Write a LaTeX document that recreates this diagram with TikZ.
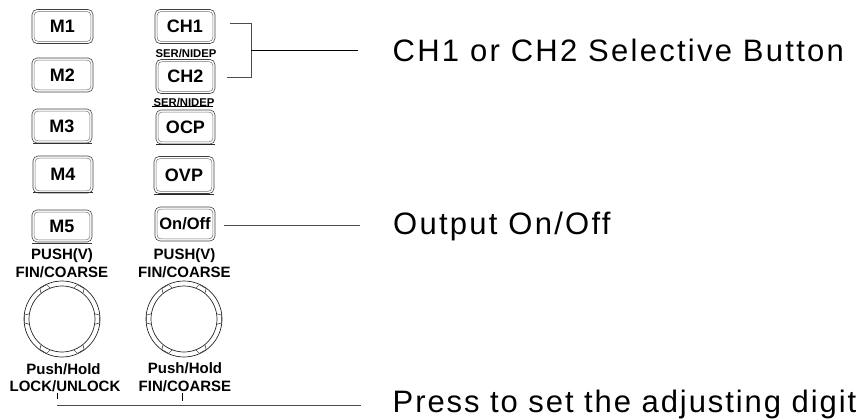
\documentclass[tikz,border=0pt]{standalone}
\usepackage{fontspec}
\setmainfont{Liberation Sans}
\newfontfamily\callfont[LetterSpace=7.3]{Liberation Sans}
\newfontfamily\callfontb[LetterSpace=6.2]{Liberation Sans}
\tikzset{
  btnbox/.style={draw=black!75,line width=0.6pt,rounded corners=5pt,minimum width=#1,inner sep=0pt,font=\fontsize{18}{19}\selectfont\bfseries},
  btnbox/.default=61pt,
  tiny label/.style={inner sep=0pt,font=\fontsize{11.3}{12}\selectfont\bfseries},
  small label/.style={inner sep=0pt,font=\fontsize{15}{16}\selectfont\bfseries},
  callout/.style={anchor=base west,inner sep=0pt,font=\fontsize{31}{33}\selectfont\callfont},
  leader/.style={draw=black!70,line width=0.7pt},
  knob/.style={circle,draw=black!85,line width=0.7pt,minimum size=76pt,inner sep=0pt},
  knobin/.style={circle,draw=black!85,line width=0.7pt,minimum size=66pt,inner sep=0pt},
  notch/.style={draw=black!85,fill=white,line width=0.5pt}
}
\newcommand{\btn}[6]{% name, cx, cy, w, h, text
  \node[btnbox=#4 pt,minimum height=#5 pt] (#1) at (#2,#3) {#6};
  \draw[black!55,line width=0.5pt,rounded corners=3.5pt]
    ($(#1.south west)+(2.5,-2.5)$) rectangle ($(#1.north east)+(-2.5,2.5)$);
}
\newcommand{\knobnotches}[1]{%
  \foreach \a in {0,60,120,180,240,300}{%
    \draw[notch] ($(#1)+(\a-9:33.3)$) -- ($(#1)+(\a-6:37.7)$) -- ($(#1)+(\a+6:37.7)$) -- ($(#1)+(\a+9:33.3)$);
  }%
}
\usetikzlibrary{calc}
\begin{document}
\begin{tikzpicture}[x=1pt,y=-1pt]
\useasboundingbox (0,0) rectangle (863,420);
% memory buttons
\btn{m1}{62.5}{26.5}{61}{34}{M1}
\btn{m2}{62.5}{75}{61}{34}{M2}
\btn{m3}{62}{126}{60}{34}{M3}
\btn{m4}{63}{174.5}{60}{37}{M4}
\btn{m5}{62}{226}{60}{32}{M5}
\draw[line width=0.9pt,black!80] (33,143.5) -- (92,143.5) (33,192.5) -- (93,192.5) (32,243) -- (92,243);
% channel buttons
\btn{ch1}{185}{26.5}{60}{34}{CH1}
\btn{ch2}{185.5}{76.5}{59}{34}{CH2}
\btn{ocp}{185.5}{127}{59}{34}{OCP}
\btn{ovp}{184}{175}{60}{37}{OVP}
\node[btnbox=60pt,minimum height=34pt,font=\fontsize{16.5}{17}\selectfont\bfseries] (onoff) at (185,224) {On/Off};
\draw[black!55,line width=0.5pt,rounded corners=3.5pt]
  ($(onoff.south west)+(2.5,-2.5)$) rectangle ($(onoff.north east)+(-2.5,2.5)$);
\draw[line width=1pt,black!85] (156,144.5) -- (215,144.5) (154,194.5) -- (214,194.5);
% small labels
\node[tiny label] (ser1) at (186,53.5) {SER/NIDEP};
\node[tiny label] (ser2) at (184,102.5) {SER/NIDEP};
\draw[line width=0.6pt] (152,106.5) -- (213,106.5);
\node[small label] (p1) at (62,256) {PUSH(V)};
\node[small label] (f1) at (62,272.5) {FIN/COARSE};
\node[small label] (p2) at (184.5,256) {PUSH(V)};
\node[small label] (f2) at (184.5,272.5) {FIN/COARSE};
% knobs
\node[knob] (k1) at (62,319) {};
\node[knob] (k2) at (184,319) {};
\knobnotches{k1}
\knobnotches{k2}
\node[knobin] (k1i) at (62,319) {};
\node[knobin] (k2i) at (184,319) {};
\node[small label] (h1) at (63.5,369) {Push/Hold};
\node[small label] (l1) at (65,386) {LOCK/UNLOCK};
\node[small label] (h2) at (185,368) {Push/Hold};
\node[small label] (l2) at (185,386) {FIN/COARSE};
% callouts
\node[callout] (t1) at (392.5,62) {CH1 or CH2 Selective Button};
\node[callout] (t2) at (393,234) {Output On/Off};
\node[callout,font=\fontsize{31}{33}\selectfont\callfontb] (t3) at (392.5,412) {Press to set the adjusting digit};
% leaders
\coordinate (a1) at (230,23.5);
\coordinate (a2) at (227,77);
\coordinate (bt) at (251,23.5);
\coordinate (bb) at (251,77);
\coordinate (bm) at (251,50);
\coordinate (e1) at (358,50);
\draw[leader] (a1) -- (bt) -- (bb) -- (a2);
\draw[line width=0.8pt] (bm) -- (e1);
\coordinate (a3) at (224,225);
\coordinate (e3) at (360,225);
\draw[leader] (a3) -- (e3);
\coordinate (b1) at (57,405);
\coordinate (b2) at (361,405);
\coordinate (c1) at (57,392.5);
\coordinate (c1b) at (57,398.5);
\coordinate (c2) at (182,392.5);
\coordinate (c2b) at (182,400.5);
\draw[leader,line width=0.9pt] (b1) -- (b2);
\draw[line width=0.7pt] (c1) -- (c1b) (c2) -- (c2b);
\end{tikzpicture}
\end{document}
